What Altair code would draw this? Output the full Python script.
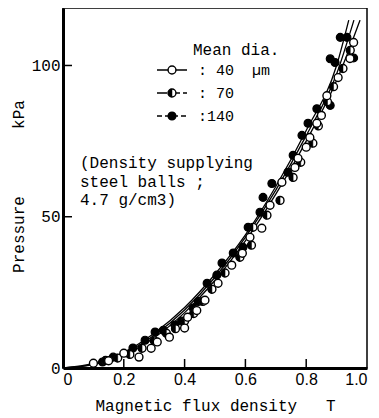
import altair as alt
import pandas as pd

# ---------------- data ----------------
# measured points (B in T, P in kPa)
b_40 = [0.10, 0.15, 0.20, 0.25, 0.29, 0.31, 0.35, 0.40, 0.41, 0.44, 0.467, 0.51, 0.555, 0.59,
        0.615, 0.654, 0.681, 0.72, 0.763, 0.773, 0.80, 0.812, 0.835, 0.85, 0.868, 0.905, 0.944, 0.956]
p_40 = [1.6, 2.4, 4.9, 3.6, 6.5, 8.6, 10.2, 13.2, 16.8, 19.0, 22.4, 28.0, 34.0, 37.9,
        43.2, 46.2, 53.8, 61.4, 66.3, 69.3, 73.0, 76.2, 80.9, 83.5, 90.0, 96.0, 102.3, 107.6]

b_70 = [0.14, 0.18, 0.22, 0.26, 0.30, 0.34, 0.37, 0.40, 0.43, 0.46, 0.49, 0.533, 0.582, 0.62,
        0.625, 0.671, 0.714, 0.757, 0.782, 0.822, 0.84, 0.87, 0.89, 0.921, 0.945]
p_70 = [2.5, 3.3, 4.5, 6.5, 9.0, 11.5, 13.0, 15.5, 18.0, 22.0, 26.0, 31.4, 36.6, 40.6,
        46.5, 50.5, 55.4, 63.0, 68.0, 74.3, 80.0, 88.0, 93.0, 99.0, 105.0]

b_140 = [0.13, 0.165, 0.23, 0.27, 0.303, 0.33, 0.368, 0.39, 0.428, 0.445, 0.474, 0.506, 0.523,
         0.56, 0.592, 0.609, 0.648, 0.658, 0.687, 0.740, 0.757, 0.786, 0.806, 0.835, 0.879,
         0.879, 0.895, 0.912, 0.934, 0.956]
p_140 = [2.0, 3.6, 6.6, 9.2, 11.9, 12.5, 14.2, 15.5, 19.8, 22.0, 28.0, 30.7, 34.7,
         38.0, 39.9, 46.5, 51.5, 56.4, 61.0, 64.7, 70.3, 76.9, 80.9, 85.7, 86.8,
         102.2, 101.0, 109.3, 109.3, 102.5]

# fitted curves
cb_40 = [0, 0.1, 0.2, 0.3, 0.4, 0.5, 0.6, 0.7, 0.8, 0.9, 0.977]
cp_40 = [0, 1.1, 4.3, 10.0, 18.3, 29.0, 42.0, 57.5, 75.0, 95.0, 115]
cb_70 = [0, 0.1, 0.2, 0.3, 0.4, 0.5, 0.6, 0.7, 0.8, 0.9, 0.957]
cp_70 = [0, 1.3, 4.8, 10.8, 19.2, 30.0, 43.2, 58.8, 76.8, 97.2, 115]
cb_140 = [0, 0.1, 0.2, 0.3, 0.4, 0.5, 0.6, 0.7, 0.8, 0.9, 0.94]
cp_140 = [0, 1.5, 5.2, 11.5, 20.0, 31.0, 44.0, 60.0, 78.5, 100.0, 115]

series_names = ["40", "70", "140"]
NB = "\u00a0"
legend_labels = [":" + NB + "40" + NB + NB + "\u00b5m", ":" + NB + "70", ":140"]
x_tick_values = [0.2, 0.4, 0.6, 0.8]
y_tick_values = [50, 100]
x_label_values = [0, 0.2, 0.4, 0.6, 0.8, 1.0]
y_label_values = [0, 50, 100]
note_lines = ["(Density supplying", "steel balls ;", "4.7 g/cm3)"]
x_title = "Magnetic flux density" + NB * 3 + "T"
y_title = "Pressure" + NB * 7 + "kPa"

# ---------------- layout / style ----------------
W, H = 304, 360
FONT = "Liberation Mono"
LEG_DASH = {"40": [1, 0], "70": [10, 3], "140": [5, 3]}
MSIZE = 62
HALF = "M0,-1A1,1,0,0,0,0,1Z"

xs = alt.Scale(domain=[0, 1.0], nice=False, zero=False)
ys = alt.Scale(domain=[0, 119], nice=False)

x_axis = alt.Axis(values=x_label_values, ticks=False, grid=False,
                  labelExpr="datum.value == 0 ? '0' : format(datum.value, '.1f')",
                  labelFont="Liberation Sans", labelFontSize=16, labelPadding=3,
                  title=x_title, titleFont=FONT, titleFontSize=16,
                  titleFontWeight="normal", titleY=37, titleBaseline="middle")
y_axis = alt.Axis(values=y_label_values, ticks=False, grid=False, format="d",
                  labelFont=FONT, labelFontSize=16, labelPadding=3,
                  title=y_title, titleFont=FONT, titleFontSize=16,
                  titleFontWeight="normal", titleX=-45, titleY=H / 2 - 2,
                  titleAngle=-90, titleAlign="center", titleBaseline="middle")

X = alt.X("B:Q", scale=xs, axis=x_axis)
Y = alt.Y("P:Q", scale=ys, axis=y_axis)

# curves
curve_rows = []
for name, bb, pp in [("40", cb_40, cp_40), ("70", cb_70, cp_70), ("140", cb_140, cp_140)]:
    for i, (b, p) in enumerate(zip(bb, pp)):
        curve_rows.append({"B": b, "P": p, "series": name, "o": i})
curve_df = pd.DataFrame(curve_rows)

curves = alt.Chart(curve_df).mark_line(color="black", strokeWidth=1.3,
                                       interpolate="monotone", clip=True).encode(
    x=X, y=Y, order="o:Q", detail="series:N")

df40 = pd.DataFrame({"B": b_40, "P": p_40})
df70 = pd.DataFrame({"B": b_70, "P": p_70})
df140 = pd.DataFrame({"B": b_140, "P": p_140})

def filled_pts(df):
    return alt.Chart(df).mark_point(shape="circle", fill="black", stroke="black",
                                    strokeWidth=1.2, size=MSIZE, opacity=1,
                                    fillOpacity=1)

def open_pts(df):
    return alt.Chart(df).mark_point(shape="circle", fill="white", stroke="black",
                                    strokeWidth=1.4, size=MSIZE, opacity=1,
                                    fillOpacity=1)

def half_pts(df):
    return alt.Chart(df).mark_point(shape=HALF, fill="black", stroke="black",
                                    strokeWidth=0.5, size=MSIZE, opacity=1,
                                    fillOpacity=1)

pts140 = filled_pts(df140).encode(x=X, y=Y)
pts70a = open_pts(df70).encode(x=X, y=Y)
pts70b = half_pts(df70).encode(x=X, y=Y)
pts40 = open_pts(df40).encode(x=X, y=Y)

# inward ticks
xt = alt.Chart(pd.DataFrame({"B": x_tick_values})).mark_rule(
    color="black", strokeWidth=1.5).encode(x=X, y=alt.value(H), y2=alt.value(H - 9))
yt = alt.Chart(pd.DataFrame({"P": y_tick_values})).mark_rule(
    color="black", strokeWidth=1.5).encode(y=Y, x=alt.value(0), x2=alt.value(9))

one = pd.DataFrame({"a": [0]})
layers = [curves, pts140, pts70a, pts70b, pts40, xt, yt]

# legend (annotation)
layers.append(alt.Chart(one).mark_text(font=FONT, fontSize=16, align="left",
                                       baseline="middle", color="black",
                                       text="Mean dia.").encode(
    x=alt.value(130), y=alt.value(42)))
row_y = [62, 85, 108]
for i, name in enumerate(series_names):
    yv = row_y[i]
    layers.append(alt.Chart(one).mark_rule(color="black", strokeWidth=1.3,
                                           strokeDash=LEG_DASH[name]).encode(
        x=alt.value(94), x2=alt.value(124), y=alt.value(yv)))
    pos = dict(x=alt.value(109), y=alt.value(yv))
    if name == "140":
        layers.append(filled_pts(one).encode(**pos))
    else:
        layers.append(open_pts(one).encode(**pos))
        if name == "70":
            layers.append(half_pts(one).encode(**pos))
    layers.append(alt.Chart(one).mark_text(font=FONT, fontSize=15, align="left",
                                           baseline="middle", color="black",
                                           text=legend_labels[i]).encode(
        x=alt.value(135), y=alt.value(yv)))

# note text
for i, line in enumerate(note_lines):
    layers.append(alt.Chart(one).mark_text(font=FONT, fontSize=16, align="left",
                                           baseline="middle", color="black",
                                           text=line.replace(" ", NB)).encode(
        x=alt.value(17), y=alt.value(155 + 18.5 * i)))

chart = alt.layer(*layers).properties(
    width=W, height=H,
    padding={"left": 55, "top": 0, "right": 4, "bottom": 50},
    autosize="none",
    background="white",
).configure_view(stroke="black", strokeWidth=1.5).configure_axis(
    domainColor="black", domainWidth=3, labelColor="black", titleColor="black"
)

chart.save("out.html", embed_options={"renderer": "svg", "actions": False})
